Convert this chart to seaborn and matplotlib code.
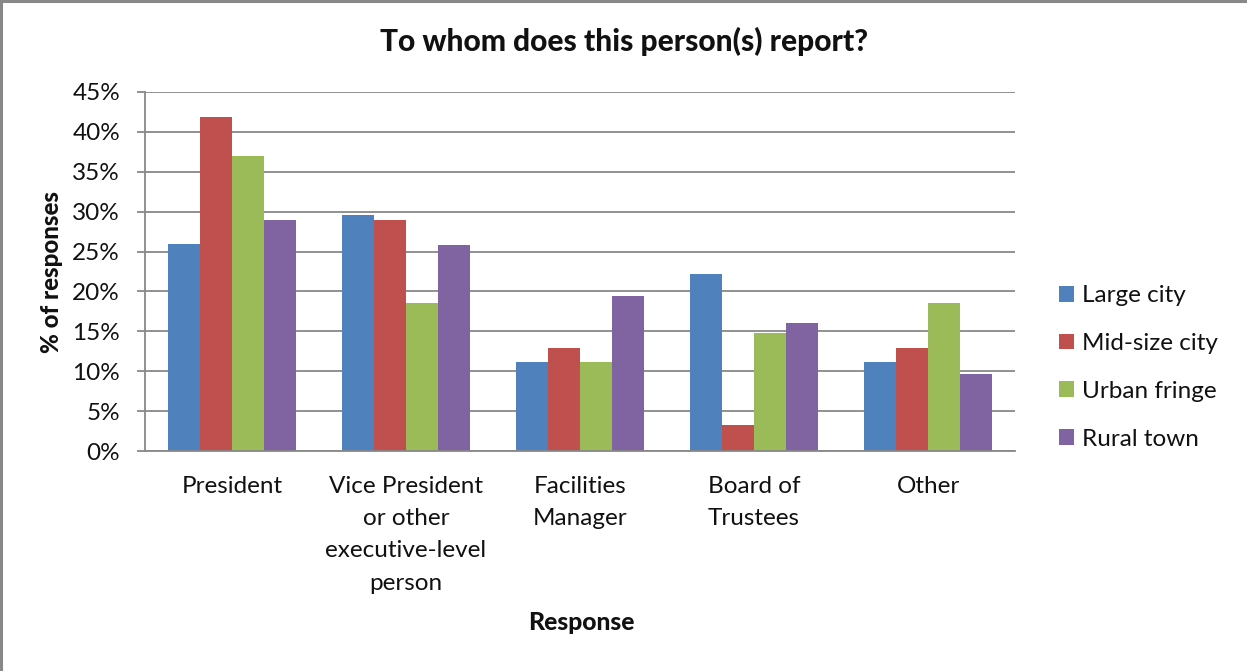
import matplotlib
matplotlib.use("Agg")
import matplotlib.pyplot as plt
from matplotlib.lines import Line2D
import seaborn as sns
import pandas as pd

# Survey responses: share of responses (%) per reporting line and community type
responses = ["President", "Vice President\nor other\nexecutive-level\nperson",
             "Facilities\nManager", "Board of\nTrustees", "Other"]
groups = ["Large city", "Mid-size city", "Urban fringe", "Rural town"]
large_city = [25.9, 29.6, 11.1, 22.2, 11.1]
mid_size_city = [41.9, 29.0, 12.9, 3.2, 12.9]
urban_fringe = [37.0, 18.5, 11.1, 14.8, 18.5]
rural_town = [29.0, 25.8, 19.4, 16.1, 9.7]
y_ticks = [0, 5, 10, 15, 20, 25, 30, 35, 40, 45]
colors = ["#4F81BD", "#C0504D", "#9BBB59", "#8064A2"]

series = [large_city, mid_size_city, urban_fringe, rural_town]
df = pd.DataFrame({
    "Response": [r for _ in groups for r in responses],
    "Group": [g for g in groups for _ in responses],
    "Percent": [v for s in series for v in s],
})

sns.set_theme(style="white")
plt.rcParams["font.family"] = ["Lato", "DejaVu Sans"]
grid_color = "#888888"
text_color = "#111111"
fs = 17.5

W, H = 1247, 671
fig = plt.figure(figsize=(W / 100, H / 100), dpi=100)
ax = fig.add_axes([145 / W, 1 - 451 / H, 870 / W, 359 / H])

sns.barplot(data=df, x="Response", y="Percent", hue="Group",
            order=responses, hue_order=groups, palette=colors,
            width=0.73, gap=0, linewidth=0, saturation=1, ax=ax)

ax.set_ylim(0, 45)
ax.set_xlim(-0.5, len(responses) - 0.5)
ax.set_yticks(y_ticks)
ax.set_yticklabels([f"{t}%" for t in y_ticks])
ax.yaxis.grid(True, color=grid_color, linewidth=1.3)
ax.set_axisbelow(True)
ax.set_xlabel("")
ax.set_ylabel("")

for side in ("top", "right"):
    ax.spines[side].set_visible(False)
for side in ("left", "bottom"):
    ax.spines[side].set_color(grid_color)
    ax.spines[side].set_linewidth(1.3)

ax.tick_params(axis="y", which="major", left=True, length=6, width=1.3,
               color=grid_color, pad=12, labelsize=fs, labelcolor=text_color)
ax.tick_params(axis="x", which="major", bottom=False, length=0, pad=18,
               labelsize=fs, labelcolor=text_color)
for lbl in ax.get_xticklabels():
    lbl.set_linespacing(1.66)
    lbl.set_verticalalignment("top")

# Legend on the right, outside the plot area
handles, labels = ax.get_legend_handles_labels()
ax.legend(handles, labels, loc="center left",
          bbox_to_anchor=(1037 / W, 1 - 367.5 / H), bbox_transform=fig.transFigure,
          frameon=False, fontsize=fs, handlelength=0.62, handleheight=0.62,
          handletextpad=0.35, labelspacing=1.1, labelcolor=text_color)

fig.text(624 / W, 1 - 41 / H, "To whom does this person(s) report?",
         ha="center", va="center", fontsize=21.5, fontweight="black", color=text_color)
fig.text(52 / W, 1 - 272 / H, "% of responses", rotation=90,
         ha="center", va="center", fontsize=17.3, fontweight="black", color=text_color)
fig.text(581 / W, 1 - 622 / H, "Response",
         ha="center", va="center", fontsize=17.8, fontweight="black", color=text_color)

# Chart frame along the top and left edges
fig.add_artist(Line2D([0.001, 0.001], [0, 1], transform=fig.transFigure,
                      color=grid_color, linewidth=2.2))
fig.add_artist(Line2D([0, 1], [0.999, 0.999], transform=fig.transFigure,
                      color=grid_color, linewidth=2.2))

fig.savefig("out.png", dpi=100, facecolor="white")
